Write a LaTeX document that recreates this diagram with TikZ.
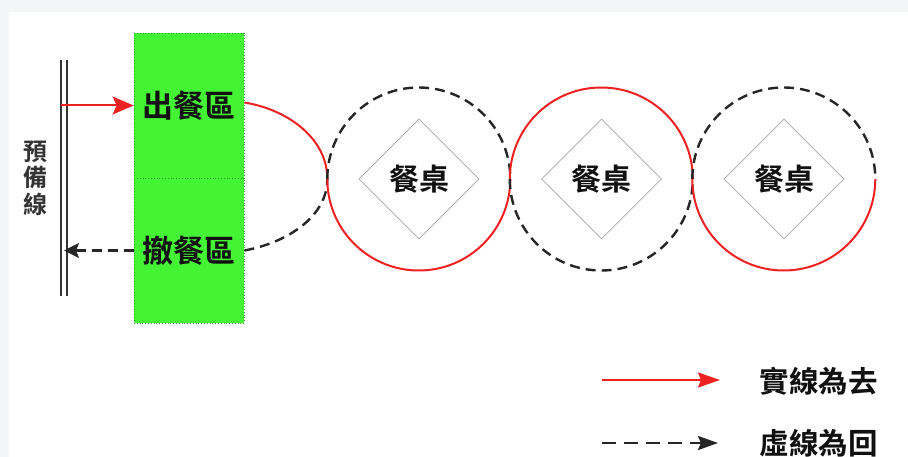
\documentclass[tikz,border=0pt]{standalone}
\usepackage{fontspec}
\newfontfamily\cjk{Noto Sans CJK TC}
\newfontfamily\cjkb{Noto Sans CJK TC Bold}
\usetikzlibrary{shapes.geometric,arrows.meta}
\definecolor{bggray}{HTML}{F4F5F7}
\definecolor{boxgreen}{HTML}{44F434}
\definecolor{boxedge}{HTML}{2E9E2E}
\definecolor{redline}{HTML}{EE2222}
\definecolor{txt}{HTML}{111111}
\tikzset{
  zonebox/.style={rectangle, fill=boxgreen, draw=boxedge, dotted, line width=0.8pt,
    minimum width=110pt, minimum height=145pt, inner sep=0pt,
    font=\cjkb\fontsize{31}{34}\selectfont, text=txt},
  tablebox/.style={diamond, draw=gray!70, line width=0.8pt, minimum size=120pt, inner sep=0pt,
    font=\cjkb\fontsize{30}{34}\selectfont, text=txt},
  ring/.style={circle, minimum size=183pt, inner sep=0pt},
  goline/.style={draw=redline, line width=2pt},
  backline/.style={draw=black!85, line width=2.4pt, dash pattern=on 10pt off 6pt},
  legendtext/.style={font=\cjkb\fontsize{29.5}{34}\selectfont, text=txt, anchor=west},
  rail/.style={draw=black!80, line width=1.6pt}
}
\begin{document}
\begin{tikzpicture}[x=1pt,y=1pt]
\useasboundingbox (0,0) rectangle (908,-457);
\fill[bggray] (0,0) rectangle (908,-457);
\fill[white] (9,-12) rectangle (908,-457);

% rail (double line)
\coordinate (r1t) at (61,-60);
\coordinate (r1b) at (61,-296);
\coordinate (r2t) at (67,-60);
\coordinate (r2b) at (67,-296);
\draw[rail] (r1t) -- (r1b);
\draw[rail] (r2t) -- (r2b);
\node[font=\cjkb\fontsize{24}{26.5}\selectfont, text=black!80, align=center, inner sep=0pt] (prep) at (35.5,-178) {預\\備\\線};

% zones
\node[zonebox] (outbox) at (189,-105.5) {出餐區};
\node[zonebox] (inbox) at (189,-250.5) {撤餐區};

% arrows rail <-> zones
\coordinate (railout) at (61,-105.5);
\coordinate (railin) at (64,-250.5);
\draw[goline, -{Stealth[length=21pt,width=18pt,inset=4pt]}] (railout) -- (outbox.west);
\draw[backline, -{Stealth[length=15pt,width=15pt,inset=3pt]}] (inbox.west) -- (railin);

% tables
\node[ring] (c1) at (419,-179) {};
\node[ring] (c2) at (601.5,-179) {};
\node[ring] (c3) at (784,-179) {};
\node[tablebox] (t1) at (c1) {餐桌};
\node[tablebox] (t2) at (c2) {餐桌};
\node[tablebox] (t3) at (c3) {餐桌};

% left connecting curves
\draw[goline] ([yshift=3pt]outbox.east) .. controls (290,-110) and (327.5,-140) .. (c1.west);
\draw[backline] (inbox.east) .. controls (290,-242) and (327.5,-215) .. (c1.west);

% circle arcs
\draw[backline] (c1.west) arc[start angle=180, end angle=0, radius=91.5];
\draw[goline] (c1.west) arc[start angle=180, end angle=360, radius=91.5];
\draw[goline] (c2.west) arc[start angle=180, end angle=0, radius=91.5];
\draw[backline] (c2.west) arc[start angle=180, end angle=360, radius=91.5];
\draw[backline] (c3.west) arc[start angle=180, end angle=0, radius=91.5];
\draw[goline] (c3.west) arc[start angle=180, end angle=360, radius=91.5];

% legend
\coordinate (lg1s) at (602,-380);
\coordinate (lg1e) at (720,-380);
\coordinate (lg2s) at (602,-443);
\coordinate (lg2e) at (718,-443);
\draw[goline, -{Stealth[length=22pt,width=15pt,inset=3pt]}] (lg1s) -- (lg1e);
\draw[backline, dash pattern=on 14pt off 8pt, -{Stealth[length=20pt,width=14pt,inset=3pt]}] (lg2s) -- (lg2e);
\node[legendtext] (lgt1) at (756,-381) {實線為去};
\node[legendtext] (lgt2) at (756,-443) {虛線為回};
\end{tikzpicture}
\end{document}
